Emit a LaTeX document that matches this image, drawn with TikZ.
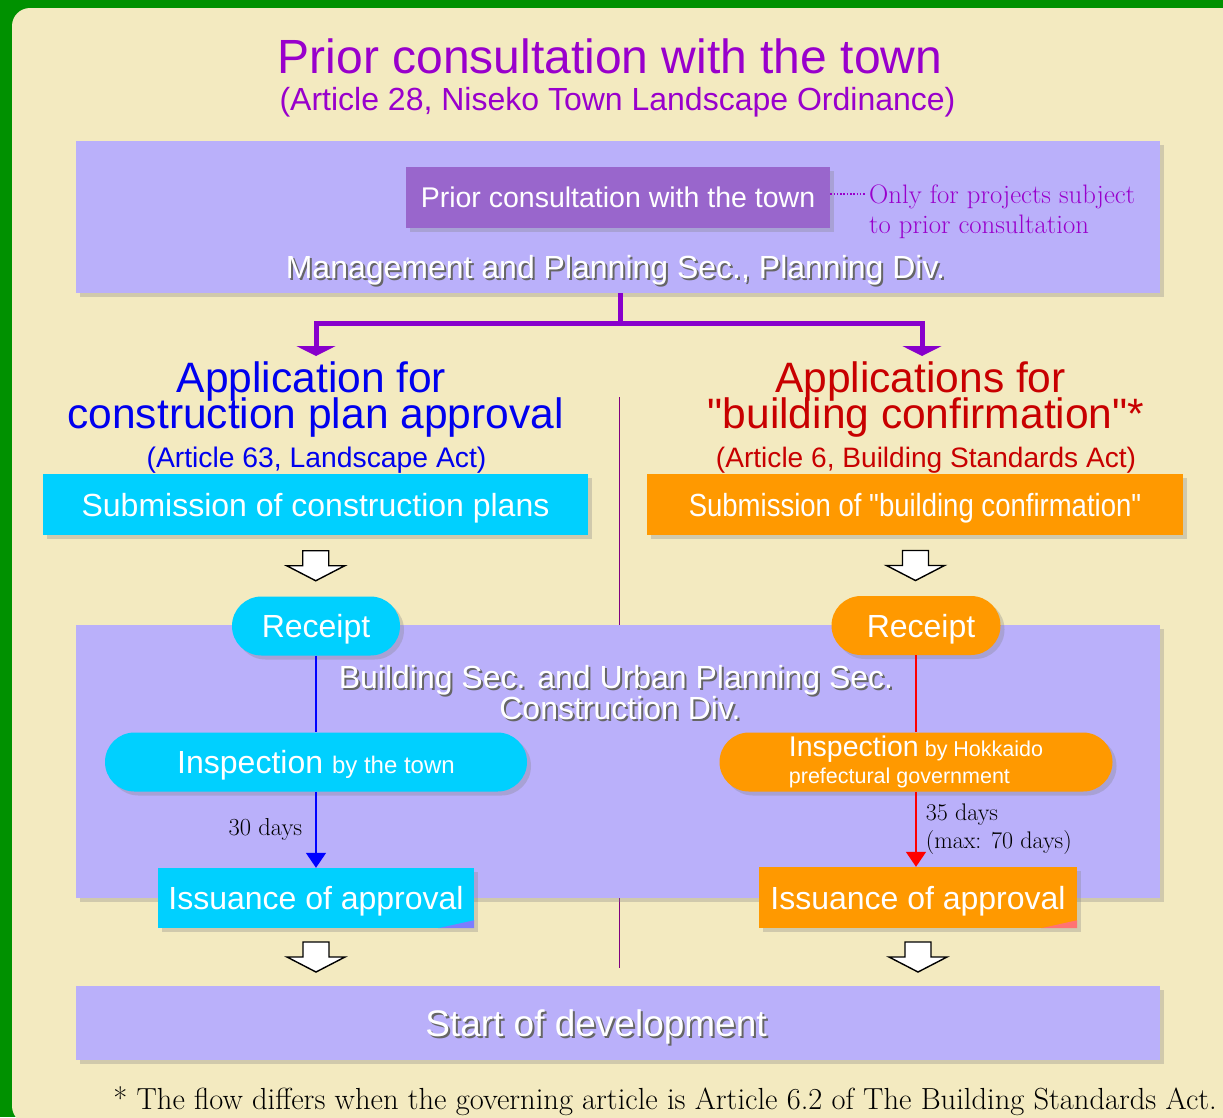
\documentclass[tikz,border=0pt]{standalone}
\usepackage{fontspec}
\newfontfamily\arial{Liberation Sans}
\newfontfamily\arialn[FakeStretch=0.86]{Liberation Sans}
\usetikzlibrary{arrows.meta,positioning,calc,shadows}
\definecolor{frame}{RGB}{0,145,0}
\definecolor{cream}{RGB}{243,234,192}
\definecolor{lav}{RGB}{186,176,250}
\definecolor{priorpurple}{RGB}{153,102,204}
\definecolor{titlepurple}{RGB}{153,0,204}
\definecolor{linkpurple}{RGB}{136,0,204}
\definecolor{divpurple}{RGB}{128,0,128}
\definecolor{appcyan}{RGB}{0,208,255}
\definecolor{apporange}{RGB}{255,153,0}
\definecolor{headblue}{RGB}{0,0,238}
\definecolor{headred}{RGB}{200,0,0}
\definecolor{curlL}{RGB}{125,125,255}
\definecolor{curlR}{RGB}{255,115,115}
\newcommand{\fs}[1]{\fontsize{#1}{#1}\selectfont}
\newcommand{\shadowed}[1]{\makebox[0pt][l]{\hspace{2pt}\raisebox{-2pt}{\color{black!60}#1}}#1}

\begin{document}
\begin{tikzpicture}[x=1pt,y=-1pt]
\tikzset{panel/.style={fill=lav, inner sep=0, minimum width=1084, minimum height=#1, drop shadow={opacity=0.3,shadow xshift=4pt,shadow yshift=-4pt}}}
\tikzset{stepbox/.style={inner sep=0, text=white, font=\arial\fs{32}, minimum height=60, drop shadow={opacity=0.3,shadow xshift=4pt,shadow yshift=-4pt}}}
\tikzset{capfix/.style={text height=23pt, text depth=0pt}}
\tikzset{pill/.style={stepbox, minimum height=59, rounded corners=29.5pt}}
\tikzset{whitetxt/.style={text=white, font=\arial\fs{32}, inner sep=0, anchor=base}}
\tikzset{headL/.style={text=headblue, font=\arial\fs{42.5}, inner sep=0, anchor=base}}
\tikzset{headR/.style={text=headred, font=\arial\fs{42.5}, inner sep=0, anchor=base}}
\tikzset{link/.style={draw=linkpurple, line width=5pt, -{Triangle[width=39pt,length=10pt]}}}
\tikzset{hollow/.pic={\draw[fill=white, line width=1.4pt] (-13,-15) -- (13,-15) -- (13,0) -- (29,0) -- (0,15) -- (-29,0) -- (-13,0) -- cycle;}}
\useasboundingbox (0,0) rectangle (1223,1117);
\fill[frame] (0,0) rectangle (1223,1117);
\fill[cream, rounded corners=18pt] (12,8) rectangle (1250,1124);

% title
\node[font=\arial\fs{48}, text=titlepurple, anchor=base, inner sep=0] (title) at (610,73) {Prior consultation with the town};
\node[font=\arial\fs{32}, text=titlepurple, anchor=base, inner sep=0] (subtitle) at (617.5,110) {(Article 28, Niseko Town Landscape Ordinance)};

\node[panel=152] (topbox) at (618,217) {};
\node[stepbox, fill=priorpurple, font=\arial\fs{28.5}, text height=20.4pt, text depth=0pt, minimum width=424, minimum height=61] (priorbox) at (618,197.5) {Prior consultation with the town};
\node[anchor=north west, inner sep=0, font=\fontsize{26.7}{30}\selectfont, text=titlepurple, align=left] (note) at (869,184.5) {Only for projects subject\\to prior consultation};
\coordinate (notept) at (866,194);
\draw[titlepurple, line width=1.5pt, dash pattern=on 1.5pt off 1.8pt] (priorbox.east |- notept) -- (notept);
\node[whitetxt] (mgmt) at (615.5,278) {\shadowed{Management and Planning Sec., Planning Div.}};

\coordinate (fork) at (620,323);
\coordinate (forkL) at (316,356);
\coordinate (forkR) at (922,356);
\draw[link] (fork |- topbox.south) -- (fork) -| (forkL);
\draw[link] (fork) -| (forkR);

% divider between the two columns
\coordinate (divtop) at (619,397);
\coordinate (divbot) at (619,968);
\draw[divpurple, line width=0.9pt] (divtop) -- (divbot);

\node[headL] (headL1) at (311.5,392) {Application for};
\node[headL] (headL2) at (315.5,428) {construction plan approval};
\node[headL, font=\arial\fs{28.3}] (headL3) at (316.5,467) {(Article 63, Landscape Act)};
\node[headR] (headR1) at (920.5,392) {Applications for};
\node[headR] (headR2) at (926,428) {"building confirmation"*};
\node[headR, font=\arial\fs{28.1}] (headR3) at (926,467) {(Article 6, Building Standards Act)};

\node[stepbox, capfix, fill=appcyan, minimum width=545, minimum height=61] (subL) at (315.5,504.5) {Submission of construction plans};
\node[stepbox, capfix, fill=apporange, font=\arialn\fs{32}, minimum width=536, minimum height=61] (subR) at (915,504.5) {Submission of "building confirmation"};

\node[panel=273] (lowbox) at (618,761.5) {};
\node[whitetxt] (bld1) at (616,688) {\shadowed{Building Sec. and Urban Planning Sec.}};
\node[whitetxt] (bld2) at (620,719) {\shadowed{Construction Div.}};

\node[pill, capfix, fill=appcyan, minimum width=168] (recL) at (316,626) {Receipt};
\node[pill, capfix, fill=apporange, minimum width=169] (recR) at (916,625.5) {\hspace{10pt}Receipt};
\node[pill, capfix, fill=appcyan, minimum width=422] (insL) at (316,762) {Inspection {\fs{24}by the town}};
\node[pill, fill=apporange, minimum width=393, align=left, font=\arial\fontsize{21.5}{27}\selectfont] (insR) at (916,762) {{\fs{28.5}Inspection} by Hokkaido\\prefectural government};
\node[stepbox, capfix, fill=appcyan, minimum width=316] (issL) at (316,898) {Issuance of approval};
\node[stepbox, capfix, fill=apporange, minimum width=318, minimum height=61] (issR) at (918,897.5) {Issuance of approval};
\fill[curlL] ([xshift=-36pt]issL.south east) -- (issL.south east) -- ([yshift=8pt]issL.south east) -- cycle;
\fill[curlR] ([xshift=-36pt]issR.south east) -- (issR.south east) -- ([yshift=8pt]issR.south east) -- cycle;

\draw[blue, line width=1.6pt] (recL) -- (insL);
\draw[blue, line width=1.6pt, -{Triangle[width=20pt,length=15pt]}] (insL) -- (issL) node[midway, left=13pt, inner sep=0, font=\fs{24.5}, text=black] (daysL) {30 days};
\draw[red, line width=1.6pt] (recR) -- (insR);
\draw[red, line width=1.6pt, -{Triangle[width=20pt,length=15pt]}] (insR) -- (insR |- issR.north) node[midway, right=9pt, inner sep=0, align=left, font=\fontsize{24}{28}\selectfont, text=black] (daysR) {35 days\\(max: 70 days)};

\node[panel=74] (startbox) at (618,1023) {};
\node[whitetxt, font=\arial\fs{37}] (start) at (596,1036) {\shadowed{Start of development}};

\pic at ($(subL.south)!0.5!(recL.north)$) {hollow};
\pic at ($(subR.south)!0.5!(recR.north)$) {hollow};
\pic at ($(issL.south)!0.5!(issL.south |- startbox.north)$) {hollow};
\pic at ($(issR.south)!0.5!(issR.south |- startbox.north)$) {hollow};

\node[anchor=base east, inner sep=0, font=\fs{30.5}] (foot) at (1217,1109) {* The flow differs when the governing article is Article 6.2 of The Building Standards Act.};
\end{tikzpicture}
\end{document}
